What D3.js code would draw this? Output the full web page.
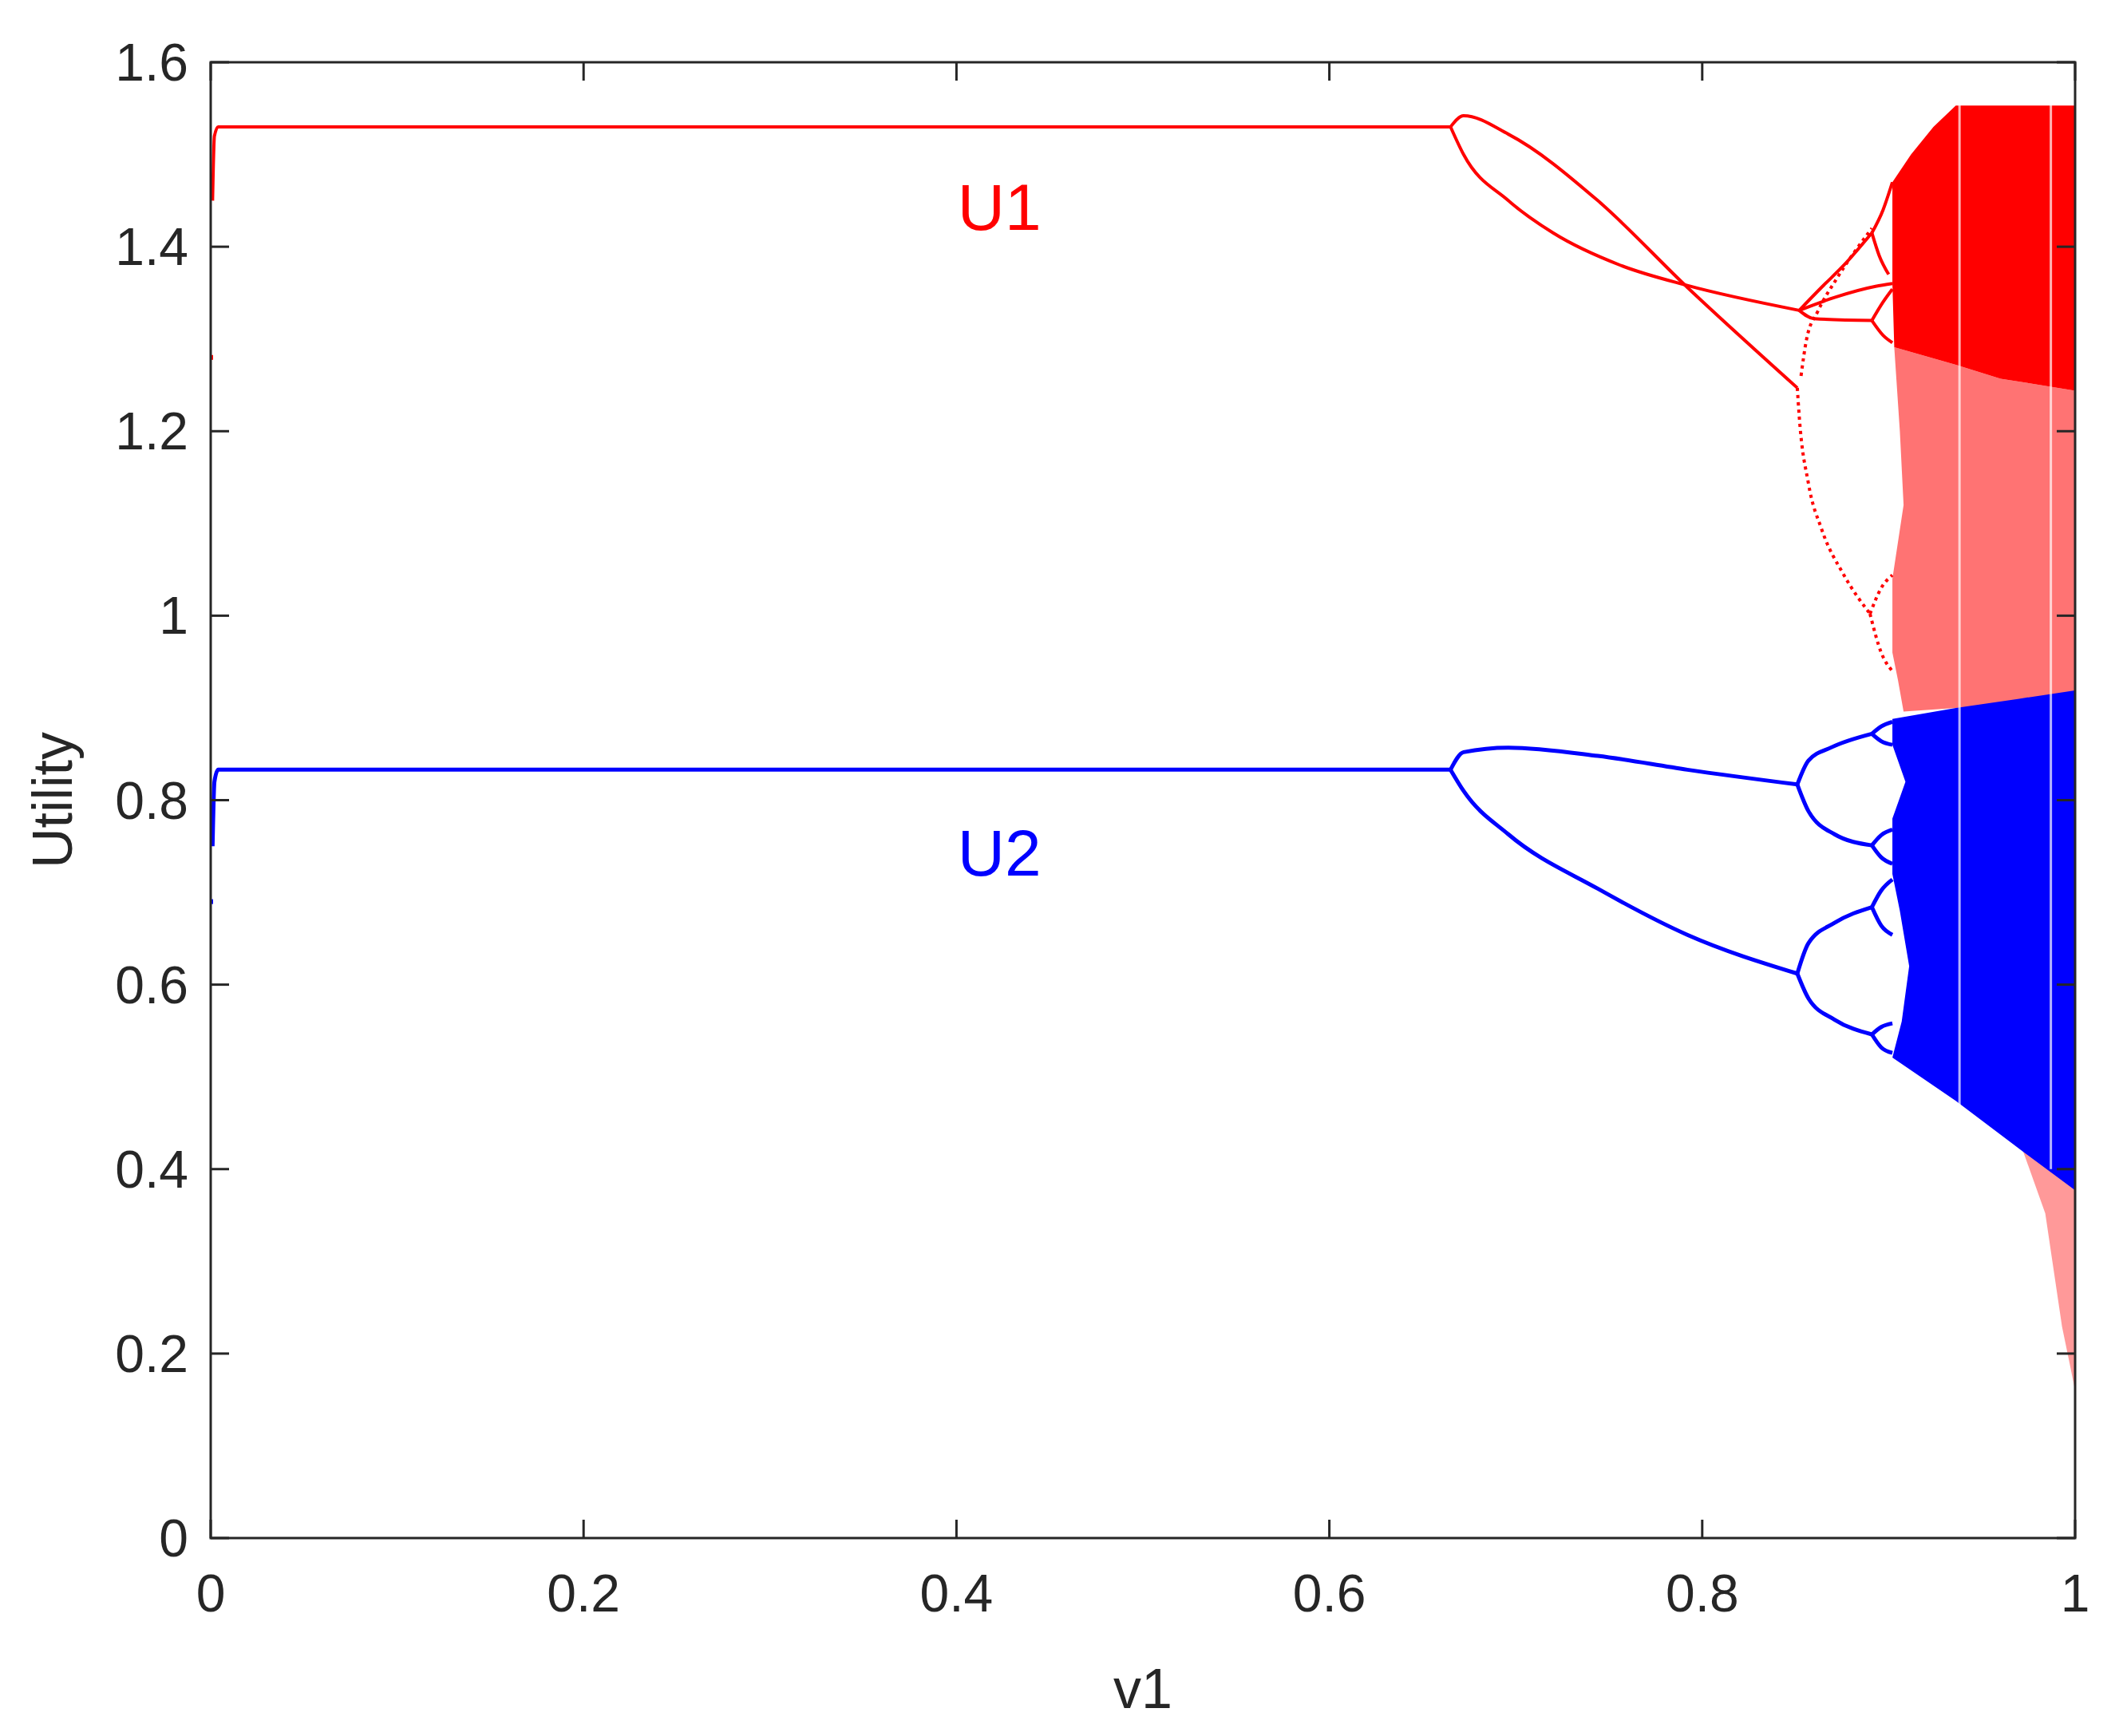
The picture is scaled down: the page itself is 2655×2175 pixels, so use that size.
<!DOCTYPE html>
<html>
<head>
<meta charset="utf-8">
<script src="https://cdn.jsdelivr.net/npm/d3@7"></script>
<style>
  body { margin: 0; background: #fff; }
  text { font-family: Arial, "Liberation Sans", sans-serif; }
</style>
</head>
<body>
<svg id="chart"></svg>
<script>
// ---------- data: [v1, utility] ----------
const xTicks = [0, 0.2, 0.4, 0.6, 0.8, 1];
const yTicks = [0, 0.2, 0.4, 0.6, 0.8, 1, 1.2, 1.4, 1.6];

// U1 (red) periodic branches
const u1Flat = [[0.001, 1.45], [0.002, 1.52], [0.004, 1.53], [0.665, 1.53]];
const u1UpperA = [[0.665, 1.53], [0.672, 1.542], [0.696, 1.522], [0.744, 1.45], [0.792, 1.356], [0.851, 1.247]];
const u1LowerB = [[0.665, 1.53], [0.672, 1.5], [0.696, 1.45], [0.72, 1.415], [0.756, 1.38], [0.792, 1.358], [0.852, 1.331]];
const u1Up4 = [[0.852, 1.331], [0.864, 1.356], [0.876, 1.38], [0.891, 1.415]];
const u1Mid4 = [[0.852, 1.331], [0.871, 1.345], [0.893, 1.357], [0.902, 1.36]];
const u1Low4 = [[0.852, 1.331], [0.86, 1.322], [0.891, 1.32]];
const u1Low8a = [[0.891, 1.32], [0.897, 1.34], [0.902, 1.354]];
const u1Low8b = [[0.891, 1.32], [0.897, 1.304], [0.902, 1.296]];
const u1Up8a = [[0.891, 1.415], [0.897, 1.44], [0.902, 1.47]];
const u1Up8b = [[0.891, 1.415], [0.895, 1.39], [0.9, 1.37]];
// sparse (dotted) branches
const u1DotDown = [[0.851, 1.247], [0.852, 1.217], [0.857, 1.143], [0.864, 1.094], [0.876, 1.044], [0.89, 1.002]];
const u1DotA = [[0.89, 1.002], [0.896, 1.03], [0.902, 1.044]];
const u1DotB = [[0.89, 1.002], [0.896, 0.96], [0.902, 0.94]];
const u1DotUp = [[0.853, 1.26], [0.856, 1.3], [0.862, 1.33], [0.872, 1.365], [0.891, 1.42]];

// U2 (blue) periodic branches
const u2Flat = [[0.001, 0.75], [0.002, 0.82], [0.004, 0.833], [0.665, 0.833]];
const u2Upper = [[0.665, 0.833], [0.672, 0.852], [0.696, 0.857], [0.744, 0.848], [0.792, 0.833], [0.851, 0.817]];
const u2Lower = [[0.665, 0.833], [0.672, 0.81], [0.696, 0.763], [0.744, 0.704], [0.792, 0.654], [0.851, 0.612]];
const u2B1 = [[0.851, 0.817], [0.857, 0.843], [0.869, 0.857], [0.891, 0.872]];
const u2B2 = [[0.851, 0.817], [0.857, 0.788], [0.871, 0.763], [0.891, 0.751]];
const u2B3 = [[0.851, 0.612], [0.857, 0.645], [0.871, 0.667], [0.891, 0.684]];
const u2B4 = [[0.851, 0.612], [0.857, 0.585], [0.871, 0.562], [0.891, 0.546]];
const u2C = [
  [[0.891, 0.872], [0.896, 0.88], [0.902, 0.885]], [[0.891, 0.872], [0.896, 0.864], [0.902, 0.86]],
  [[0.891, 0.751], [0.896, 0.762], [0.902, 0.768]], [[0.891, 0.751], [0.896, 0.738], [0.902, 0.731]],
  [[0.891, 0.684], [0.896, 0.702], [0.902, 0.714]], [[0.891, 0.684], [0.896, 0.664], [0.902, 0.654]],
  [[0.891, 0.546], [0.896, 0.554], [0.902, 0.558]], [[0.891, 0.546], [0.896, 0.532], [0.902, 0.526]]
];

// chaotic bands: outlines of the scattered regions
const u1DenseBand = [[0.902, 1.47], [0.912, 1.5], [0.924, 1.53], [0.936, 1.553], [1.0, 1.553],
  [1.0, 1.244], [0.96, 1.257], [0.936, 1.272], [0.903, 1.291], [0.902, 1.36]];
const u1SparseBand = [[0.903, 1.291], [0.936, 1.272], [0.96, 1.257], [1.0, 1.244], [1.0, 0.91],
  [0.936, 0.9], [0.908, 0.896], [0.905, 0.93], [0.902, 0.96], [0.902, 1.04], [0.908, 1.12], [0.906, 1.2]];
const u1Tail = [[0.972, 0.42], [1.0, 0.4], [1.0, 0.16], [0.997, 0.19], [0.993, 0.229], [0.984, 0.352]];
const u2Band = [[0.902, 0.888], [0.936, 0.9], [0.97, 0.91], [1.0, 0.919], [1.0, 0.377],
  [0.972, 0.419], [0.936, 0.474], [0.902, 0.521], [0.907, 0.56], [0.911, 0.62], [0.906, 0.68],
  [0.902, 0.72], [0.902, 0.78], [0.909, 0.82], [0.902, 0.86]];
const gaps = [0.938, 0.987];
const strays = [[0, 1.28, "red"], [0, 0.69, "blue"]];

// ---------- layout ----------
const W = 2655, H = 2175;
const L = 264, R = 2600, T = 78, B = 1927;
const x = d3.scaleLinear().domain([0, 1]).range([L, R]);
const y = d3.scaleLinear().domain([0, 1.6]).range([B, T]);

const svg = d3.select("#chart").attr("width", W).attr("height", H);
svg.append("defs").append("clipPath").attr("id", "clip")
  .append("rect").attr("x", L).attr("y", T).attr("width", R - L).attr("height", B - T);
const g = svg.append("g").attr("clip-path", "url(#clip)");

const line = d3.line().x(d => x(d[0])).y(d => y(d[1])).curve(d3.curveMonotoneX);
const poly = d3.line().x(d => x(d[0])).y(d => y(d[1])).curve(d3.curveLinearClosed);

// chaotic regions
g.append("path").attr("d", poly(u1SparseBand)).attr("fill", "#ff0000").attr("fill-opacity", 0.55);
g.append("path").attr("d", poly(u1Tail)).attr("fill", "#ff0000").attr("fill-opacity", 0.4);
g.append("path").attr("d", poly(u1DenseBand)).attr("fill", "#ff0000");
g.append("path").attr("d", poly(u2Band)).attr("fill", "#0000ff");

// white periodic windows
g.selectAll("line.gap").data(gaps).join("line")
  .attr("x1", d => x(d)).attr("x2", d => x(d)).attr("y1", y(1.56)).attr("y2", y(0.4))
  .attr("stroke", "#fff").attr("stroke-width", 3).attr("stroke-opacity", 0.7);

const red = [u1Flat, u1UpperA, u1LowerB, u1Up4, u1Mid4, u1Low4, u1Low8a, u1Low8b, u1Up8a, u1Up8b];
const redDots = [u1DotDown, u1DotA, u1DotB, u1DotUp];
const blue = [u2Flat, u2Upper, u2Lower, u2B1, u2B2, u2B3, u2B4, ...u2C];

g.selectAll("path.red").data(red).join("path").attr("class", "red")
  .attr("d", line).attr("fill", "none").attr("stroke", "#ff0000").attr("stroke-width", 4);
g.selectAll("path.reddot").data(redDots).join("path").attr("class", "reddot")
  .attr("d", line).attr("fill", "none").attr("stroke", "#ff0000").attr("stroke-width", 4)
  .attr("stroke-dasharray", "4 5");
g.selectAll("path.blue").data(blue).join("path").attr("class", "blue")
  .attr("d", line).attr("fill", "none").attr("stroke", "#0000ff").attr("stroke-width", 5);
g.selectAll("rect.stray").data(strays).join("rect")
  .attr("x", d => x(d[0]) - 3).attr("y", d => y(d[1]) - 3).attr("width", 6).attr("height", 6)
  .attr("fill", d => d[2]);

// ---------- axes (box with mirrored inward ticks) ----------
const ax = "#262626";
const tk = 23;
const axisG = svg.append("g").attr("stroke", ax).attr("stroke-width", 3);
axisG.append("rect").attr("x", L).attr("y", T).attr("width", R - L).attr("height", B - T).attr("fill", "none");
xTicks.forEach(t => {
  axisG.append("line").attr("x1", x(t)).attr("x2", x(t)).attr("y1", B).attr("y2", B - tk);
  axisG.append("line").attr("x1", x(t)).attr("x2", x(t)).attr("y1", T).attr("y2", T + tk);
});
yTicks.forEach(t => {
  axisG.append("line").attr("x1", L).attr("x2", L + tk).attr("y1", y(t)).attr("y2", y(t));
  axisG.append("line").attr("x1", R).attr("x2", R - tk).attr("y1", y(t)).attr("y2", y(t));
});
svg.append("g").selectAll("text").data(xTicks).join("text")
  .attr("x", d => x(d)).attr("y", B + 92).attr("text-anchor", "middle")
  .attr("font-size", 66).attr("fill", ax).text(d => String(d));
svg.append("g").selectAll("text").data(yTicks).join("text")
  .attr("x", L - 28).attr("y", d => y(d) + 23).attr("text-anchor", "end")
  .attr("font-size", 66).attr("fill", ax).text(d => String(d));

svg.append("text").attr("x", (L + R) / 2).attr("y", 2140).attr("text-anchor", "middle")
  .attr("font-size", 70).attr("fill", ax).text("v1");
svg.append("text").attr("transform", `translate(90,${(T + B) / 2}) rotate(-90)`)
  .attr("text-anchor", "middle").attr("font-size", 70).attr("fill", ax).text("Utility");

svg.append("text").attr("x", x(0.423)).attr("y", y(1.418)).attr("text-anchor", "middle")
  .attr("font-size", 82).attr("fill", "#ff0000").text("U1");
svg.append("text").attr("x", x(0.423)).attr("y", y(0.718)).attr("text-anchor", "middle")
  .attr("font-size", 82).attr("fill", "#0000ff").text("U2");
</script>
</body>
</html>
